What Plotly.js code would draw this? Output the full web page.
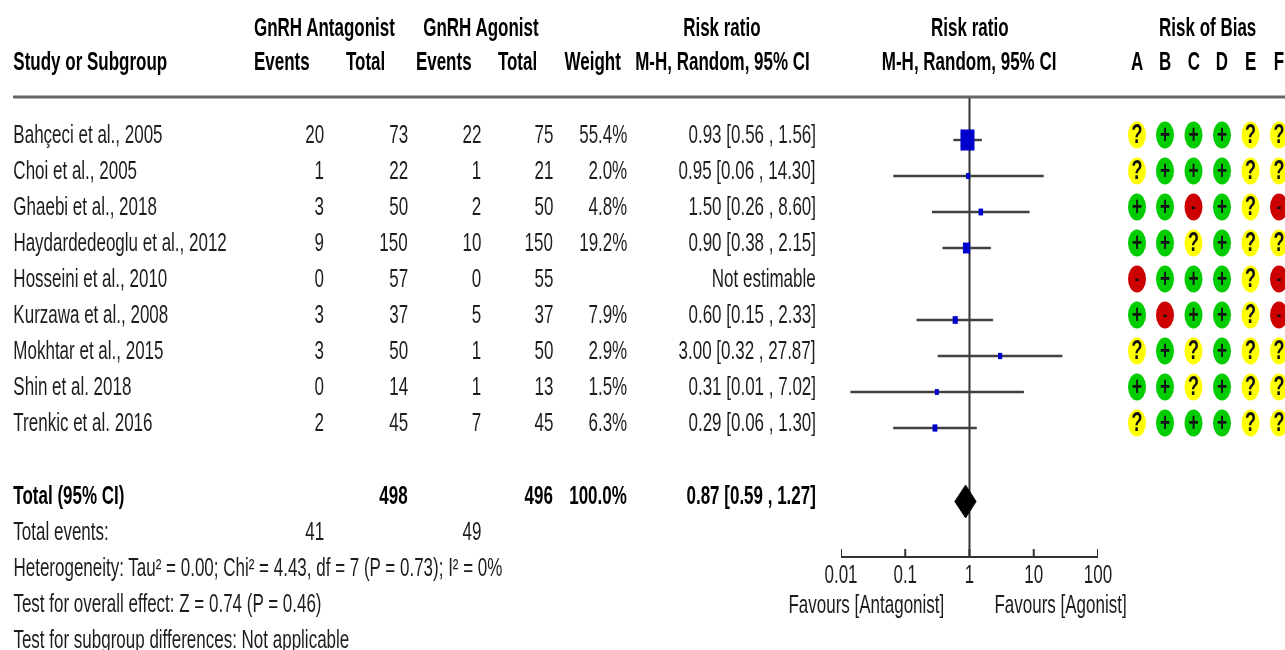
<!DOCTYPE html>
<html>
<head>
<meta charset="utf-8">
<script src="https://cdn.plot.ly/plotly-3.0.1.min.js"></script>
<style>
html,body{margin:0;padding:0;background:#fff;overflow:hidden;width:1285px;height:650px}
#chart{width:1928px;height:650px;transform:scaleX(0.66649);transform-origin:0 0;filter:blur(0.35px)}
</style>
</head>
<body>
<div id="chart"></div>
<script>
// ---- data ----
const studies = ["Bahçeci et al., 2005","Choi et al., 2005","Ghaebi et al., 2018","Haydardedeoglu et al., 2012","Hosseini et al., 2010","Kurzawa et al., 2008","Mokhtar et al., 2015","Shin et al. 2018","Trenkic et al. 2016"];
const antagonistEvents = [20,1,3,9,0,3,3,0,2];
const antagonistTotals = [73,22,50,150,57,37,50,14,45];
const agonistEvents = [22,1,2,10,0,5,1,1,7];
const agonistTotals = [75,21,50,150,55,37,50,13,45];
const weights = [55.4,2.0,4.8,19.2,null,7.9,2.9,1.5,6.3];
const ratios = [0.93,0.95,1.50,0.90,null,0.60,3.00,0.31,0.29];
const lowers = [0.56,0.065,0.26,0.38,null,0.15,0.32,0.014,0.065];
const uppers = [1.56,14.30,8.60,2.15,null,2.33,27.87,7.02,1.30];
const ciLabels = ["0.93 [0.56 , 1.56]","0.95 [0.06 , 14.30]","1.50 [0.26 , 8.60]","0.90 [0.38 , 2.15]","Not estimable","0.60 [0.15 , 2.33]","3.00 [0.32 , 27.87]","0.31 [0.01 , 7.02]","0.29 [0.06 , 1.30]"];
const biasDomains = ["A","B","C","D","E","F"];
const biasA = ["?","?","+","+","-","+","?","+","?"];
const biasB = ["+","+","+","+","+","-","+","+","+"];
const biasC = ["+","+","-","?","+","+","?","?","+"];
const biasD = ["+","+","+","+","+","+","+","+","+"];
const biasE = ["?","?","?","?","?","?","?","?","?"];
const biasF = ["?","?","-","?","-","-","?","?","?"];
const pooled = {ratio:0.87, lower:0.59, upper:1.27};
const axisTicks = [0.01,0.1,1,10,100];
const axisTickLabels = ["0.01","0.1","1","10","100"];
const footerNotes = ["Heterogeneity: Tau² = 0.00; Chi² = 4.43, df = 7 (P = 0.73); I² = 0%","Test for overall effect: Z = 0.74 (P = 0.46)","Test for subgroup differences: Not applicable"];

// ---- layout constants (reference pixels) ----
const FS = 25.5, TXT = "#1d1d1d";
const rowY = i => 134 + 36*i, markY = i => 140 + 36*i, biasY = i => 135 + 36*i;
const biasX = [1137,1165,1193.5,1222,1250.5,1279];
const C = {ev1:324, tot1:408, ev2:481, tot2:553, wt:627, ci:816};

const ann = [];
function t(x,y,text,anchor,bold,color){
  ann.push({x,y,xref:"x",yref:"y",text:bold?"<b>"+text+"</b>":String(text),showarrow:false,
    xanchor:anchor||"left",yanchor:"middle",borderpad:0,borderwidth:0,
    font:{family:"Liberation Sans, Arial, sans-serif",size:FS,color:color||TXT}});
}
// header
t(324.5,27,"GnRH Antagonist","center",true,"#000");
t(481.5,27,"GnRH Agonist","center",true,"#000");
t(722,27,"Risk ratio","center",true,"#000");
t(969.5,27,"Risk ratio","center",true,"#000");
t(1208,27,"Risk of Bias","center",true,"#000");
t(13,61,"Study or Subgroup","left",true,"#000");
t(254,61,"Events","left",true,"#000");
t(385,61,"Total","right",true,"#000");
t(416,61,"Events","left",true,"#000");
t(537,61,"Total","right",true,"#000");
t(621,61,"Weight","right",true,"#000");
t(810,61,"M-H, Random, 95% CI","right",true,"#000");
t(969,61,"M-H, Random, 95% CI","center",true,"#000");
biasDomains.forEach((d,i)=>t(biasX[i],61,d,"center",true,"#000"));
// rows
studies.forEach((s,i)=>{
  const y=rowY(i);
  t(13,y,s);
  t(C.ev1,y,antagonistEvents[i],"right");
  t(C.tot1,y,antagonistTotals[i],"right");
  t(C.ev2,y,agonistEvents[i],"right");
  t(C.tot2,y,agonistTotals[i],"right");
  if(weights[i]!==null) t(C.wt,y,weights[i].toFixed(1)+"%","right");
  t(C.ci,y,ciLabels[i],"right");
});
// totals
t(13,495,"Total (95% CI)","left",true,"#000");
t(C.tot1,495,"498","right",true,"#000");
t(C.tot2,495,"496","right",true,"#000");
t(C.wt,495,"100.0%","right",true,"#000");
t(C.ci,495,"0.87 [0.59 , 1.27]","right",true,"#000");
t(13,531,"Total events:");
t(C.ev1,531,"41","right");
t(C.ev2,531,"49","right");
footerNotes.forEach((n,i)=>t(13,567+36*i,n));
t(866.5,604,"Favours [Antagonist]","center");
t(1060.5,604,"Favours [Agonist]","center");

// ---- traces ----
const traces = [];
const ciStudies = studies.map((_,i)=>i).filter(i=>ratios[i]!==null);
// null line
traces.push({type:"scatter",mode:"lines",xaxis:"x2",yaxis:"y2",x:[1,1],y:[97,556],line:{color:"#333",width:3},hoverinfo:"skip"});
// axis tick marks (drawn as a trace so the end ticks at 0.01 and 100 show)
traces.push({type:"scatter",mode:"lines",xaxis:"x2",yaxis:"y2",cliponaxis:false,
  x:axisTicks.flatMap(v=>[v,v,null]),y:axisTicks.flatMap(()=>[549,556,null]),
  line:{color:"#333",width:3},hoverinfo:"skip"});
// CI whiskers
traces.push({type:"scatter",mode:"lines",xaxis:"x2",yaxis:"y2",
  x:ciStudies.flatMap(i=>[lowers[i],uppers[i],null]),
  y:ciStudies.flatMap(i=>[markY(i),markY(i),null]),
  line:{color:"#404040",width:2.4},hoverinfo:"skip"});
// study squares
traces.push({type:"scatter",mode:"markers",xaxis:"x2",yaxis:"y2",
  x:ciStudies.map(i=>ratios[i]),y:ciStudies.map(i=>markY(i)),
  marker:{symbol:"square",color:"#0000cc",opacity:1,size:ciStudies.map(i=>5.5+0.28*weights[i]),line:{width:0}}});
// pooled diamond
traces.push({type:"scatter",mode:"lines",xaxis:"x2",yaxis:"y2",fill:"toself",fillcolor:"#000",
  x:[pooled.lower,pooled.ratio,pooled.upper,pooled.ratio,pooled.lower],y:[501.5,485,501.5,518,501.5],
  line:{color:"#000",width:1},hoverinfo:"skip"});
// risk-of-bias dots
const biasCols=[biasA,biasB,biasC,biasD,biasE,biasF];
const biasColor={"+":"#00cc00","?":"#ffff00","-":"#cc0000"};
["+","?","-"].forEach(sym=>{
  const xs=[],ys=[];
  biasCols.forEach((col,c)=>col.forEach((v,r)=>{ if(v===sym){xs.push(biasX[c]);ys.push(biasY(r));} }));
  traces.push({type:"scatter",mode:"markers",x:xs,y:ys,hoverinfo:"skip",
    marker:{symbol:"circle",size:27,color:biasColor[sym],opacity:1,line:{width:0}}});
  traces.push({type:"scatter",mode:"text",x:xs,y:ys.map(v=>v+1.5),text:xs.map(()=>"<b>"+sym+"</b>"),textposition:"middle center",
    textfont:{family:"Liberation Sans, Arial, sans-serif",size:sym==="?"?27:sym==="+"?26:20,color:"#111"},hoverinfo:"skip"});
});

const layout = {
  width:1928,height:650,margin:{l:0,r:0,t:0,b:0,pad:0},
  paper_bgcolor:"#fff",plot_bgcolor:"rgba(0,0,0,0)",showlegend:false,
  xaxis:{range:[0,1285],visible:false,fixedrange:true,domain:[0,1]},
  yaxis:{range:[650,0],visible:false,fixedrange:true,domain:[0,1]},
  xaxis2:{type:"log",range:[-2,2],domain:[841/1285,1098/1285],anchor:"y2",side:"bottom",
    showgrid:false,zeroline:false,showline:true,linecolor:"#333",linewidth:2,
    ticks:"",tickvals:axisTicks,ticktext:axisTickLabels,
    ticklabelstandoff:-6,tickfont:{family:"Liberation Sans, Arial, sans-serif",size:FS,color:TXT},fixedrange:true},
  yaxis2:{range:[556,97],domain:[1-556/650,1-97/650],anchor:"x2",visible:false,fixedrange:true},
  shapes:[{type:"line",xref:"x",yref:"y",x0:13,x1:1285,y0:97,y1:97,line:{color:"#666",width:3}}],
  annotations:ann
};
Plotly.newPlot("chart",traces,layout,{staticPlot:true,displayModeBar:false});
</script>
</body>
</html>
